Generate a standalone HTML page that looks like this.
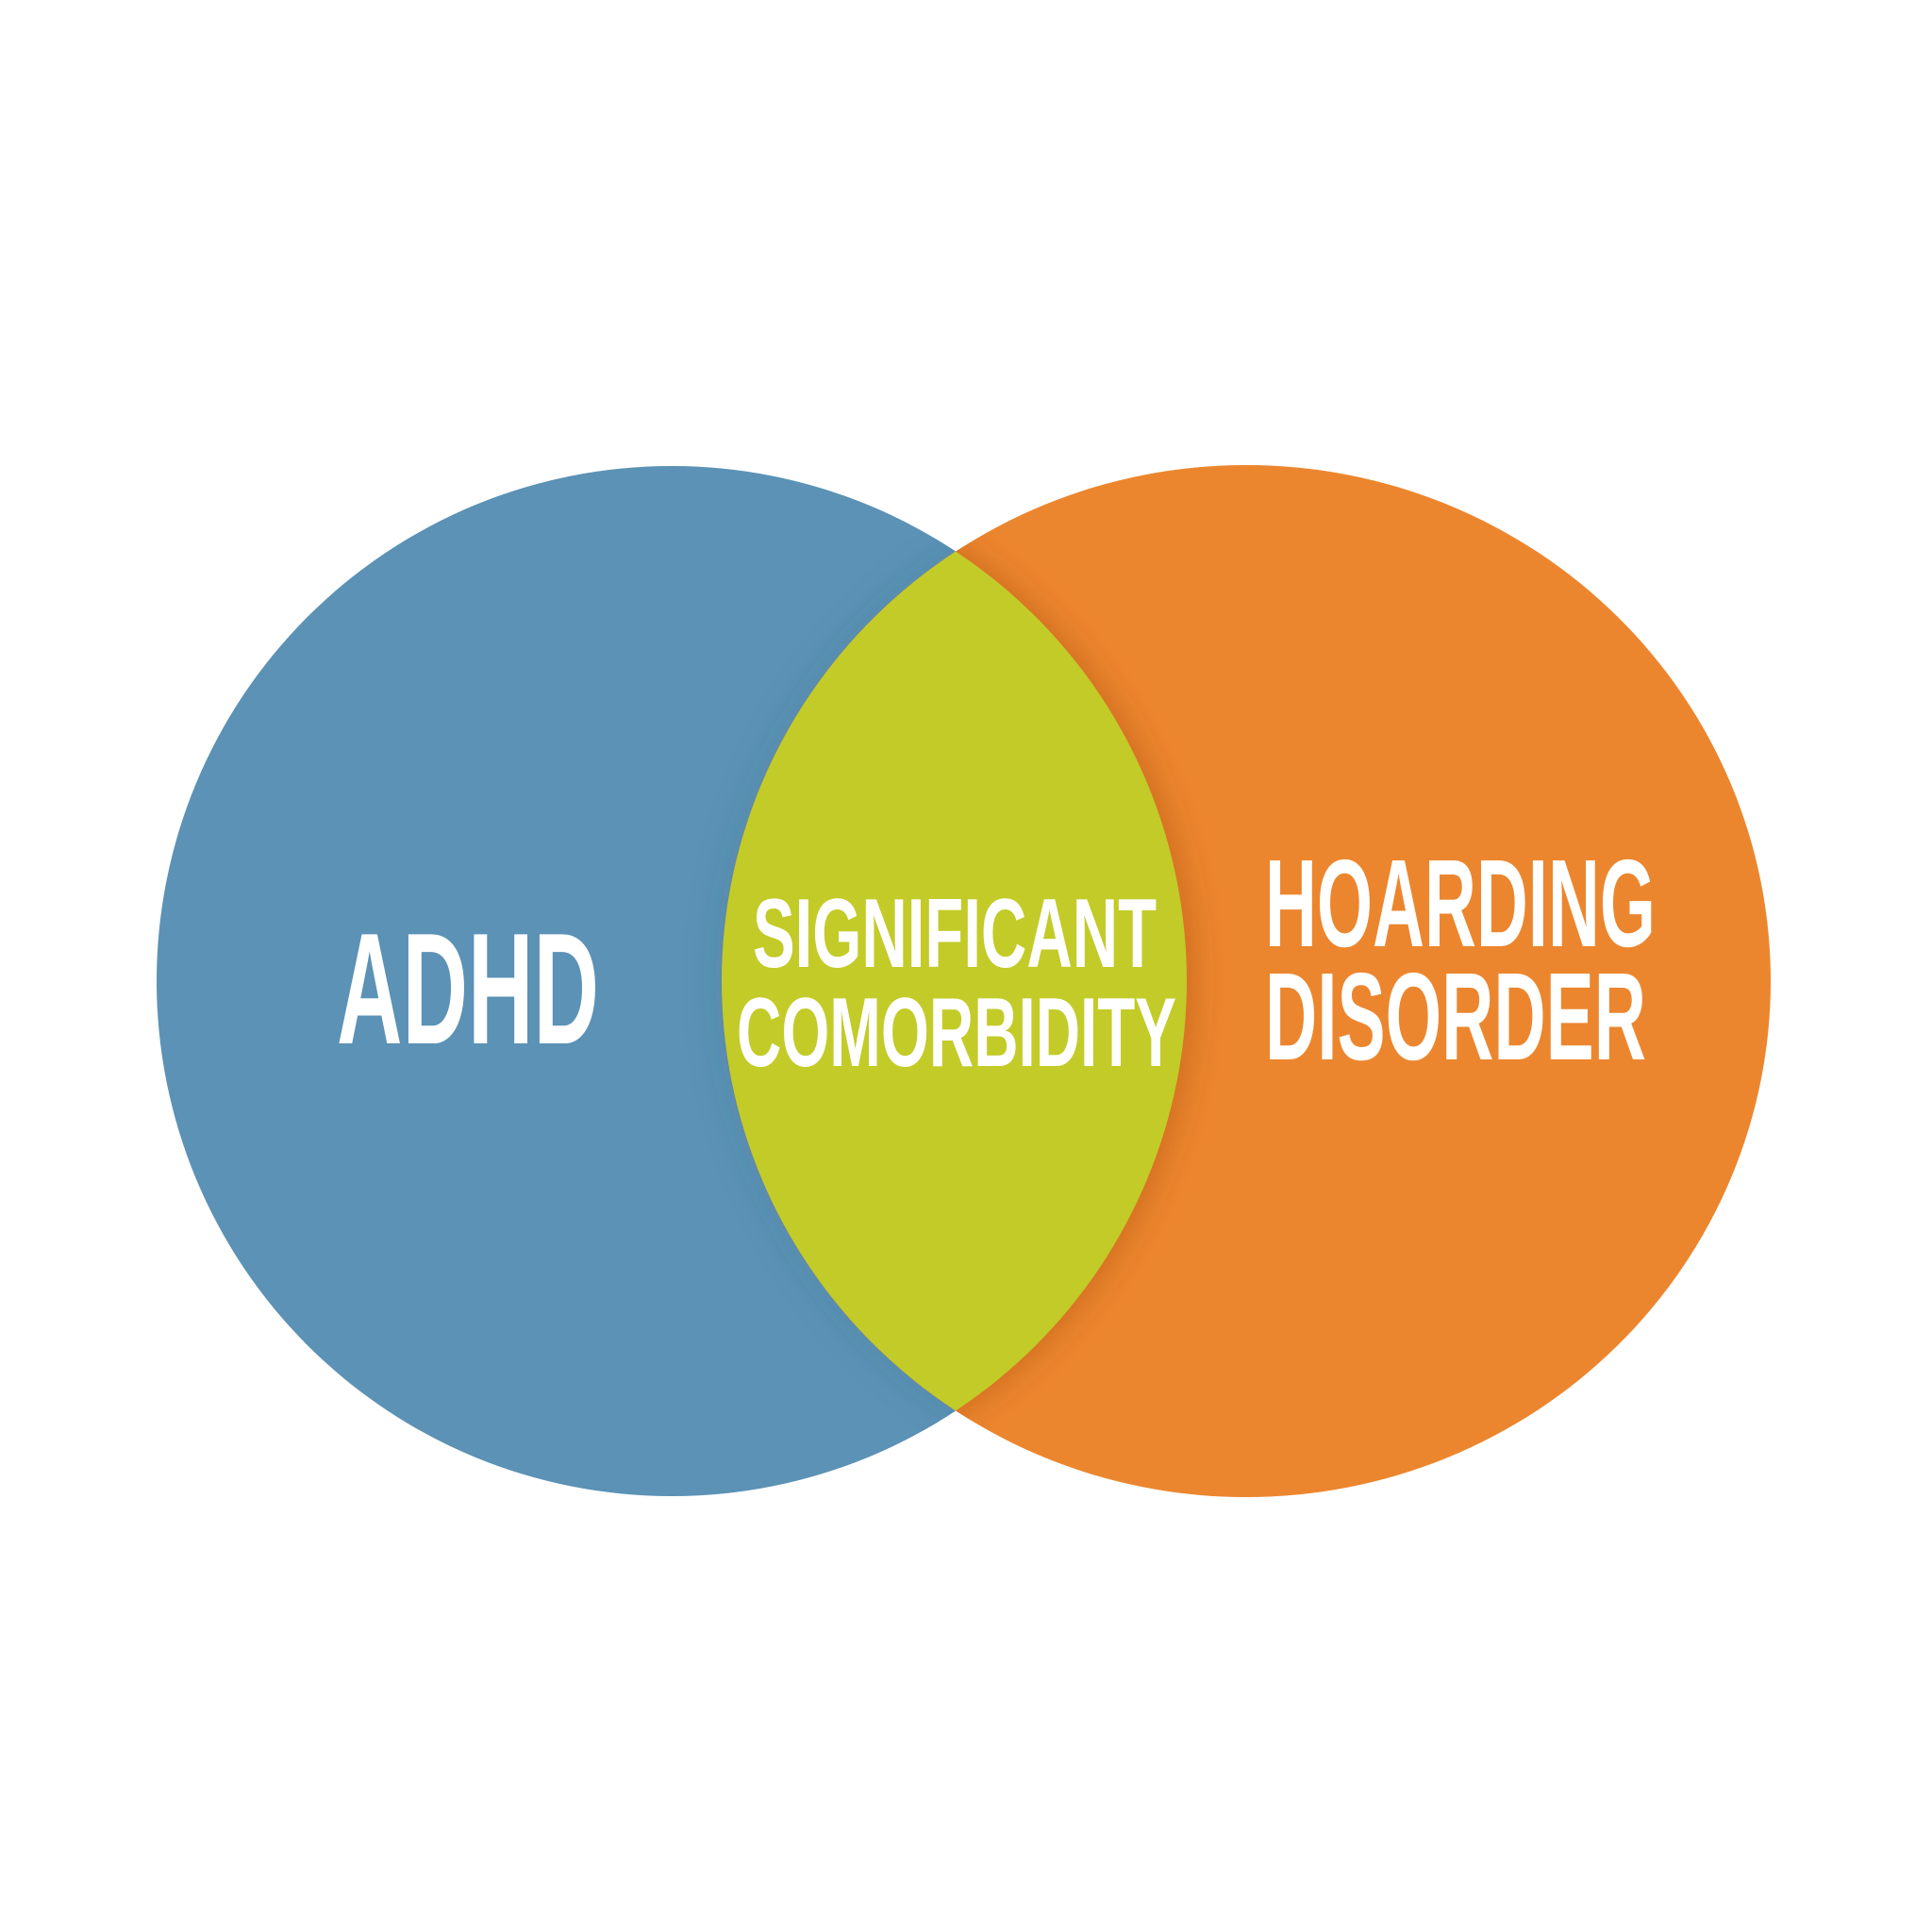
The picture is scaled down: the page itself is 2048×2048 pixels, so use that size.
<!DOCTYPE html>
<html>
<head>
<meta charset="utf-8">
<style>
  html,body{margin:0;padding:0;background:#ffffff;}
  svg{display:block;}
  text{font-family:"Liberation Sans Narrow","Liberation Sans",sans-serif;font-weight:bold;fill:#ffffff;}
</style>
</head>
<body>
<svg id="chart" width="2048" height="2048" viewBox="0 0 2048 2048" xmlns="http://www.w3.org/2000/svg">
  <defs>
    <filter id="soft" x="-20%" y="-20%" width="140%" height="140%">
      <feGaussianBlur stdDeviation="18"/>
    </filter>
  </defs>
  <rect width="2048" height="2048" fill="#ffffff"/>
  <g id="marks"></g>
  <g id="labels"></g>
</svg>
<script>
const setNames = ["ADHD", "HOARDING DISORDER"];
const setColors = ["#5b92b5", "#ec862e"];
const centersX = [712, 1321];
const centersY = [1040, 1040];
const radiiX = [546, 556];
const radiiY = [546, 547];
const overlapLabel = ["SIGNIFICANT", "COMORBIDITY"];
const overlapColor = "#c3cb28";

const NS = "http://www.w3.org/2000/svg";
const svg = document.getElementById("chart");
const marks = document.getElementById("marks");
const labels = document.getElementById("labels");
const defs = svg.querySelector("defs");

function ell(i, fill) {
  const e = document.createElementNS(NS, "ellipse");
  e.setAttribute("cx", centersX[i]);
  e.setAttribute("cy", centersY[i]);
  e.setAttribute("rx", radiiX[i]);
  e.setAttribute("ry", radiiY[i]);
  e.setAttribute("fill", fill);
  return e;
}
function makeClip(id, i) {
  const clip = document.createElementNS(NS, "clipPath");
  clip.setAttribute("id", id);
  clip.appendChild(ell(i, "#000"));
  defs.appendChild(clip);
}
makeClip("clipLeft", 0);
makeClip("clipRight", 1);

for (let i = 0; i < setNames.length; i++) {
  const c = ell(i, setColors[i]);
  
  
  marks.appendChild(c);
}

// shadow cast by lens onto orange (inside right circle)
const gR = document.createElementNS(NS, "g");
gR.setAttribute("clip-path", "url(#clipRight)");
const shR = ell(0, "rgba(150,60,10,0.35)");
shR.setAttribute("cx", centersX[0] + 8);
shR.setAttribute("filter", "url(#soft)");
gR.appendChild(shR);
marks.appendChild(gR);

// faint shadow onto blue (inside left circle)
const gL = document.createElementNS(NS, "g");
gL.setAttribute("clip-path", "url(#clipLeft)");
const shL = ell(1, "rgba(40,70,100,0.12)");
shL.setAttribute("cx", centersX[1] - 6);
shL.setAttribute("filter", "url(#soft)");
gL.appendChild(shL);
marks.appendChild(gL);

// lens
const gLens = document.createElementNS(NS, "g");
gLens.setAttribute("clip-path", "url(#clipLeft)");
const lens = ell(1, overlapColor);


gLens.appendChild(lens);
marks.appendChild(gLens);

function addText(str, x, y, size, len, name) {
  const t = document.createElementNS(NS, "text");
  t.setAttribute("x", x);
  t.setAttribute("y", y);
  t.setAttribute("font-size", size);
  t.setAttribute("text-anchor", "middle");
  t.setAttribute("textLength", len);
  t.setAttribute("lengthAdjust", "spacingAndGlyphs");
  t.textContent = str;
  
  
  labels.appendChild(t);
}
addText(setNames[0], 496, 1106, 168, 278, "adhd-label");
const hw = setNames[1].split(" ");
addText(hw[0], 1548, 1003, 132, 414, "hoarding-label");
addText(hw[1], 1543, 1123, 132, 404, "disorder-label");
addText(overlapLabel[0], 1012, 1025, 104, 428, "significant-label");
addText(overlapLabel[1], 1014, 1130, 104, 466, "comorbidity-label");
</script>
</body>
</html>
